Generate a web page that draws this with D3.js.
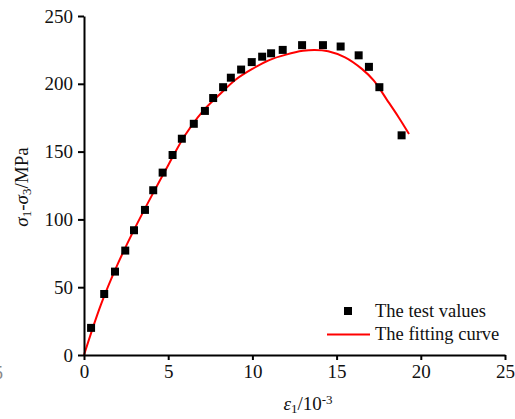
<!DOCTYPE html>
<html>
<head>
<meta charset="utf-8">
<script src="https://cdn.jsdelivr.net/npm/d3@7"></script>
<style>
  body { margin: 0; background: #fff; }
  svg text { font-family: "Liberation Serif", "Times New Roman", serif !important; }
</style>
</head>
<body>
<svg id="chart" width="515" height="419"></svg>
<script>
// test points (strain in 10^-3, deviatoric stress in MPa)
const testStrain = [0.42, 1.2, 1.84, 2.45, 2.97, 3.62, 4.11, 4.67, 5.26, 5.81, 6.52, 7.18, 7.67, 8.26, 8.72, 9.33, 9.96, 10.58, 11.11, 11.8, 12.95, 14.19, 15.24, 16.31, 16.92, 17.54, 18.86];
const testStress = [20, 45, 61.5, 77, 92, 107, 121.5, 134.5, 147.5, 159.5, 170.5, 180, 189.5, 197.5, 204.5, 210.5, 216, 220, 222.5, 225, 228.5, 228.5, 227.5, 221, 212.5, 197.5, 162];

// fitted curve, sampled along the red line
const fitStrain = [0, 1, 2, 3, 4, 5, 6, 7, 8, 9, 10, 11, 12, 13, 13.7, 14.5, 15.5, 16.5, 17.2, 18, 18.7, 19.3];
const fitStress = [0, 37, 67, 93, 117, 140, 162, 179, 191.5, 203, 211, 217.5, 221.5, 224.3, 225, 224, 219.5, 211, 202.5, 188, 175, 163];

const xTicks = [0, 5, 10, 15, 20, 25];
const yTicks = [0, 50, 100, 150, 200, 250];

const svg = d3.select('#chart');
const x = d3.scaleLinear().domain([0, 25]).range([84, 505]);
const y = d3.scaleLinear().domain([0, 250]).range([355, 16]);

// fitted curve
const line = d3.line()
    .x(d => x(d[0]))
    .y(d => y(d[1]))
    .curve(d3.curveCatmullRom);
svg.append('path')
    .datum(fitStrain.map((v, i) => [v, fitStress[i]]))
    .attr('d', line)
    .attr('fill', 'none')
    .attr('stroke', '#ff0000')
    .attr('stroke-width', 2);

// test points
const square = d3.symbol().type(d3.symbolSquare).size(64);
svg.append('g').selectAll('path')
    .data(testStrain.map((v, i) => [v, testStress[i]]))
    .join('path')
    .attr('d', square)
    .attr('transform', d => `translate(${x(d[0])},${y(d[1])})`)
    .attr('fill', '#000');

// axes
const xAxis = svg.append('g')
    .attr('transform', `translate(0,${y(0)})`)
    .call(d3.axisBottom(x).tickValues(xTicks).tickSize(5).tickPadding(5).tickSizeOuter(0));
const yAxis = svg.append('g')
    .attr('transform', `translate(${x(0)},0)`)
    .call(d3.axisLeft(y).tickValues(yTicks).tickSize(6).tickPadding(5).tickSizeOuter(0));

[xAxis, yAxis].forEach(g => {
    g.attr('font-family', null).attr('font-size', null);
    g.select('.domain').attr('stroke', '#000').attr('stroke-width', 2);
    g.selectAll('.tick line').attr('stroke', '#000').attr('stroke-width', 2);
    g.selectAll('.tick text')
        .attr('fill', '#111')
        .style('font-size', '19px');
});

// axis titles
const xt = svg.append('text')
    .attr('x', 308).attr('y', 410)
    .attr('text-anchor', 'middle')
    .style('font-size', '19px')
    .attr('fill', '#111');
xt.append('tspan').style('font-style', 'italic').text('ε');
xt.append('tspan').attr('baseline-shift', '-25%').style('font-size', '13px').text('1');
xt.append('tspan').text('/10');
xt.append('tspan').attr('baseline-shift', '45%').style('font-size', '13px').text('-3');

const yt = svg.append('text')
    .attr('transform', 'translate(28,187) rotate(-90)')
    .attr('text-anchor', 'middle')
    .style('font-size', '19px')
    .attr('fill', '#111');
yt.append('tspan').style('font-style', 'italic').text('σ');
yt.append('tspan').attr('baseline-shift', '-25%').style('font-size', '13px').text('1');
yt.append('tspan').text('-');
yt.append('tspan').style('font-style', 'italic').text('σ');
yt.append('tspan').attr('baseline-shift', '-25%').style('font-size', '13px').text('3');
yt.append('tspan').text('/MPa');

// legend
const legend = svg.append('g').style('font-size', '18.5px').attr('fill', '#111');
legend.append('path')
    .attr('d', square)
    .attr('transform', 'translate(348,311)')
    .attr('fill', '#000');
legend.append('text').attr('x', 375).attr('y', 317).text('The test values');
legend.append('line')
    .attr('x1', 327).attr('x2', 370).attr('y1', 334.5).attr('y2', 334.5)
    .attr('stroke', '#ff0000').attr('stroke-width', 2);
legend.append('text').attr('x', 375).attr('y', 340).text('The fitting curve');

// cut-off label fragment at the left edge
svg.append('text')
    .attr('x', 3).attr('y', 379)
    .attr('text-anchor', 'end')
    .style('font-size', '18px')
    .attr('fill', '#888')
    .text('5');
</script>
</body>
</html>
